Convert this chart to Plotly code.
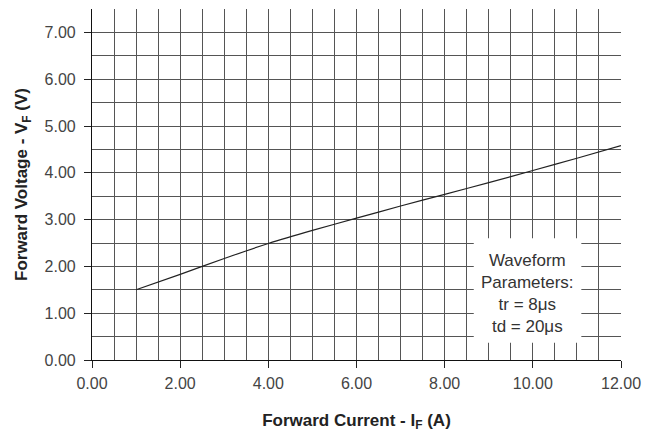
import plotly.graph_objects as go

# Data
current_a = [1, 2, 3, 4, 5, 6, 7, 8, 9, 10, 11, 12]
voltage_v = [1.50, 1.83, 2.17, 2.49, 2.77, 3.03, 3.29, 3.54, 3.79, 4.05, 4.31, 4.58]
x_ticks = [0, 2, 4, 6, 8, 10, 12]
y_ticks = [0, 1, 2, 3, 4, 5, 6, 7]
note_lines = ["Waveform", "Parameters:", "tr = 8μs", "td = 20μs"]

font_family = "Liberation Sans, Arial, sans-serif"

fig = go.Figure()
fig.add_trace(go.Scatter(x=current_a, y=voltage_v, mode="lines",
                         line=dict(color="#222222", width=1.2, shape="spline", smoothing=0.6),
                         showlegend=False, hoverinfo="skip"))

grid_col = "#555555"
fig.update_xaxes(
    range=[0, 12], tickvals=x_ticks, ticktext=[f"{v:.2f}" for v in x_ticks],
    ticks="outside", ticklen=7, tickcolor="#222", tickwidth=1,
    ticklabelstandoff=2,
    showgrid=True, gridcolor=grid_col, gridwidth=1,
    minor=dict(dtick=0.5, showgrid=True, gridcolor=grid_col, gridwidth=1, ticks=""),
    showline=True, linecolor="#111", linewidth=1.2,
    tickfont=dict(family=font_family, size=16, color="#444"),
    title=dict(text="<b>Forward Current - I<sub>F</sub> (A)</b>",
               font=dict(family=font_family, size=17, color="#222"), standoff=22),
    zeroline=False, automargin=False,
)
fig.update_yaxes(
    range=[0, 7.5], tickvals=y_ticks, ticktext=[f"{v:.2f}" for v in y_ticks],
    ticks="outside", ticklen=7, tickcolor="#222", tickwidth=1,
    ticklabelstandoff=5,
    showgrid=True, gridcolor=grid_col, gridwidth=1,
    minor=dict(dtick=0.5, showgrid=True, gridcolor=grid_col, gridwidth=1, ticks=""),
    showline=True, linecolor="#111", linewidth=1.2,
    tickfont=dict(family=font_family, size=16, color="#444"),
    title=dict(text="<b>Forward Voltage - V<sub>F</sub> (V)</b>",
               font=dict(family=font_family, size=17, color="#222"), standoff=12),
    zeroline=False, automargin=False,
)

fig.add_shape(type="rect", x0=8.66, x1=11.1, y0=0.37, y1=2.6,
              xref="x", yref="y", fillcolor="white", line=dict(width=0), layer="above")
fig.add_annotation(x=9.88, y=1.43, xref="x", yref="y", showarrow=False,
                   text="<br>".join(note_lines), align="center",
                   font=dict(family=font_family, size=17, color="#333"))

fig.update_layout(
    width=653, height=426,
    margin=dict(l=84, r=40, t=1, b=74),
    plot_bgcolor="white", paper_bgcolor="white",
)
fig.write_html("out.html")
